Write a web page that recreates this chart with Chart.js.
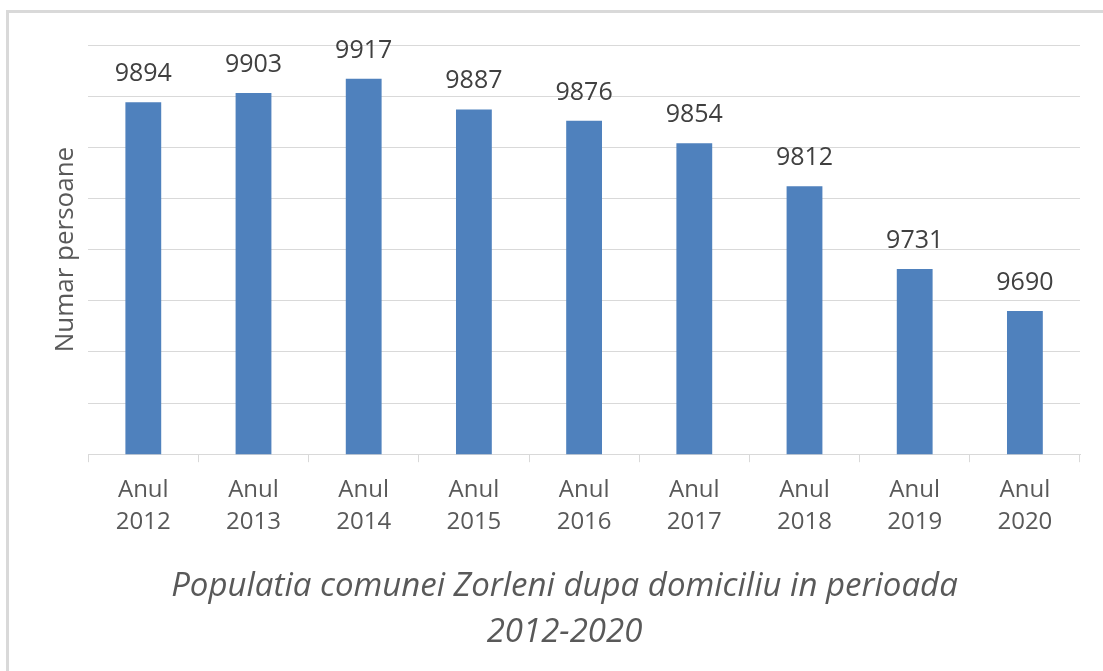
<!DOCTYPE html>
<html>
<head>
<meta charset="utf-8">
<script src="https://cdn.jsdelivr.net/npm/chart.js@4/dist/chart.umd.min.js"></script>
<style>
  html, body { margin: 0; padding: 0; background: #ffffff; overflow: hidden; }
  #wrap { position: relative; width: 1103px; height: 671px; }
  #frame { position: absolute; left: 6px; top: 10px; width: 1200px; height: 800px;
           border-top: 3px solid #d9d9d9; border-left: 3px solid #d9d9d9; box-sizing: border-box; }
  canvas { position: absolute; left: 0; top: 0; }
</style>
</head>
<body>
<div id="wrap">
  <div id="frame"></div>
  <canvas id="c" width="1103" height="671"></canvas>
</div>
<script>
const categories = [
  ["Anul", "2012"], ["Anul", "2013"], ["Anul", "2014"], ["Anul", "2015"], ["Anul", "2016"],
  ["Anul", "2017"], ["Anul", "2018"], ["Anul", "2019"], ["Anul", "2020"]
];
const populatie = [9894, 9903, 9917, 9887, 9876, 9854, 9812, 9731, 9690];
const titleLines = ["Populatia comunei Zorleni dupa domiciliu in perioada", "2012-2020"];
const yTitle = "Numar persoane";

const valueLabels = {
  id: 'valueLabels',
  afterDatasetsDraw(chart) {
    const ctx = chart.ctx;
    const meta = chart.getDatasetMeta(0);
    ctx.save();
    ctx.font = '25px "Open Sans"';
    ctx.fillStyle = '#404040';
    ctx.textAlign = 'center';
    ctx.textBaseline = 'alphabetic';
    meta.data.forEach((bar, i) => {
      ctx.fillText(String(chart.data.datasets[0].data[i]), bar.x, bar.y - 21);
    });
    ctx.restore();
  }
};

new Chart(document.getElementById('c'), {
  type: 'bar',
  data: {
    labels: categories,
    datasets: [{
      data: populatie,
      backgroundColor: '#4f81bd',
      borderWidth: 0,
      barPercentage: 0.325,
      categoryPercentage: 1.0
    }]
  },
  options: {
    responsive: false,
    animation: false,
    devicePixelRatio: 1,
    layout: { padding: { top: 45, right: 23, bottom: 15, left: 49 } },
    plugins: {
      legend: { display: false },
      tooltip: { enabled: false },
      title: {
        display: true,
        position: 'bottom',
        text: titleLines,
        color: '#595959',
        font: { family: '"Open Sans"', size: 33, style: 'italic', weight: 'normal', lineHeight: '46px' },
        padding: { top: 14, bottom: 0 }
      }
    },
    scales: {
      x: {
        grid: { display: true, drawOnChartArea: false, drawTicks: true, tickLength: 8, color: '#d9d9d9', offset: true },
        border: { display: true, color: '#d9d9d9', width: 1 },
        ticks: {
          color: '#595959',
          font: { family: '"Open Sans"', size: 24, lineHeight: 1.33 },
          padding: 12,
          maxRotation: 0,
          autoSkip: false
        }
      },
      y: {
        min: 9550,
        max: 9950,
        grid: { color: '#d9d9d9', drawTicks: false },
        border: { display: false },
        ticks: { display: false, stepSize: 50 },
        title: {
          display: true,
          text: yTitle,
          color: '#595959',
          font: { family: '"Open Sans"', size: 26 },
          padding: { top: 1, bottom: 7 }
        }
      }
    }
  },
  plugins: [valueLabels]
});
</script>
</body>
</html>
